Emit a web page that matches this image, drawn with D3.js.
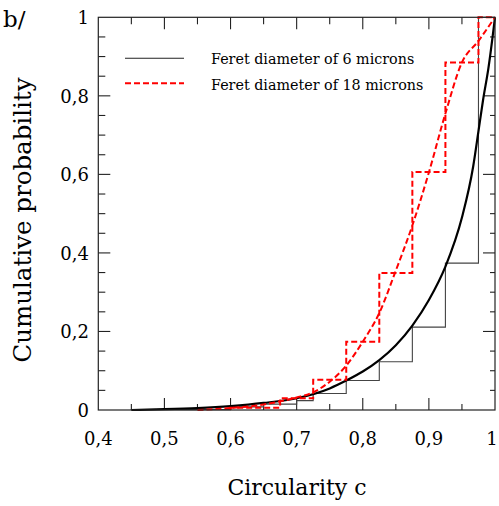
<!DOCTYPE html>
<html><head><meta charset="utf-8">
<script src="https://cdn.jsdelivr.net/npm/d3@7"></script>
<style>body{margin:0;background:#fff}svg{display:block}text{font-family:"DejaVu Serif",serif;fill:#000}</style>
</head><body>
<script>
// Data
const xTickValues = [0.4, 0.5, 0.6, 0.7, 0.8, 0.9, 1.0];
const xTickLabels = ["0,4", "0,5", "0,6", "0,7", "0,8", "0,9", "1"];
const yTickValues = [0, 0.2, 0.4, 0.6, 0.8, 1.0];
const yTickLabels = ["0", "0,2", "0,4", "0,6", "0,8", "1"];
const seriesNames = ["Feret diameter of 6 microns", "Feret diameter of 18 microns"];

// 6 microns: empirical step function (edges, levels) and fitted curve
const step6Edges = [0.45, 0.6, 0.65, 0.70, 0.725, 0.775, 0.825, 0.875, 0.925, 0.975, 1.0];
const step6Levels = [0.001, 0.008, 0.015, 0.024, 0.042, 0.075, 0.123, 0.211, 0.374, 1.0];
const curve6C = [0.45, 0.5, 0.55, 0.6, 0.65, 0.7, 0.75, 0.775, 0.8, 0.825, 0.85, 0.875, 0.9, 0.925, 0.95, 0.967, 0.975, 0.982, 0.99, 1.0];
const curve6P = [0, 0.002, 0.005, 0.01, 0.018, 0.03, 0.055, 0.075, 0.098, 0.127, 0.165, 0.215, 0.28, 0.365, 0.49, 0.62, 0.71, 0.79, 0.87, 1.0];

// 18 microns
const step18Edges = [0.6, 0.675, 0.725, 0.775, 0.825, 0.875, 0.925, 0.975, 1.0];
const step18Levels = [0.006, 0.03, 0.077, 0.174, 0.349, 0.606, 0.885, 1.0];
const curve18C = [0.55, 0.6, 0.65, 0.675, 0.7, 0.725, 0.75, 0.775, 0.8, 0.825, 0.85, 0.875, 0.9, 0.925, 0.95, 0.975, 1.0];
const curve18P = [0, 0.005, 0.014, 0.022, 0.032, 0.045, 0.072, 0.113, 0.174, 0.247, 0.355, 0.47, 0.605, 0.755, 0.885, 0.94, 1.0];

const W = 499, H = 506;
const svg = d3.select("body").append("svg").attr("width", W).attr("height", H);
const x = d3.scaleLinear().domain([0.4, 1]).range([98.3, 495]);
const y = d3.scaleLinear().domain([0, 1]).range([410, 17.3]);

// ticks
const g = svg.append("g").attr("stroke", "#222").attr("stroke-width", 1.1);
const xMinor = d3.range(0.45, 1.0, 0.05).map(v => +v.toFixed(2));
xMinor.forEach(v => {
  const major = Math.abs(v * 10 - Math.round(v * 10)) < 1e-6;
  const L = major ? 12 : 6;
  g.append("line").attr("x1", x(v)).attr("x2", x(v)).attr("y1", y(0)).attr("y2", y(0) - L);
  g.append("line").attr("x1", x(v)).attr("x2", x(v)).attr("y1", y(1)).attr("y2", y(1) + (major ? 12 : 7));
});
const yMinor = d3.range(0.05, 1.0, 0.05).map(v => +v.toFixed(2));
yMinor.forEach(v => {
  const major = Math.abs(v * 5 - Math.round(v * 5)) < 1e-6;
  const L = major ? 12 : 7;
  g.append("line").attr("x1", x(0.4)).attr("x2", x(0.4) + L).attr("y1", y(v)).attr("y2", y(v));
  g.append("line").attr("x1", x(1)).attr("x2", x(1) - (major ? 12 : 5)).attr("y1", y(v)).attr("y2", y(v));
});

// steps
const stepPts = (edges, levels) => {
  const pts = edges.slice(0, -1).map((e, i) => [e, levels[i]]);
  pts.push([edges[edges.length - 1], levels[levels.length - 1]]);
  return pts;
};
const stepLine = d3.line().x(d => x(d[0])).y(d => y(d[1])).curve(d3.curveStepAfter);
const smooth = d3.line().x(d => x(d[0])).y(d => y(d[1])).curve(d3.curveMonotoneX);

svg.append("path").attr("d", stepLine([[step6Edges[0], 0], ...stepPts(step6Edges, step6Levels)]))
  .attr("fill", "none").attr("stroke", "#444").attr("stroke-width", 1.1);
svg.append("path").attr("d", smooth(curve6C.map((c, i) => [c, curve6P[i]])))
  .attr("fill", "none").attr("stroke", "#000").attr("stroke-width", 2.2);
svg.append("path").attr("d", stepLine([[step18Edges[0], 0], ...stepPts(step18Edges, step18Levels)]))
  .attr("fill", "none").attr("stroke", "#ff0000").attr("stroke-width", 2).attr("stroke-dasharray", "6,3");
svg.append("path").attr("d", smooth(curve18C.map((c, i) => [c, curve18P[i]])))
  .attr("fill", "none").attr("stroke", "#ff0000").attr("stroke-width", 2).attr("stroke-dasharray", "6,3");

// frame
svg.append("rect").attr("x", x(0.4)).attr("y", y(1)).attr("width", x(1) - x(0.4)).attr("height", y(0) - y(1))
  .attr("fill", "none").attr("stroke", "#222").attr("stroke-width", 1.2);

// tick labels
svg.selectAll(".xl").data(xTickValues).enter().append("text")
  .attr("x", d => Math.min(x(d), 492)).attr("y", 445).attr("text-anchor", "middle").attr("font-size", 18)
  .text((d, i) => xTickLabels[i]);
svg.selectAll(".yl").data(yTickValues).enter().append("text")
  .attr("x", 89).attr("y", d => y(d)).attr("dy", "0.38em").attr("text-anchor", "end").attr("font-size", 18)
  .text((d, i) => yTickLabels[i]);

// axis titles
svg.append("text").attr("x", 297).attr("y", 495).attr("text-anchor", "middle").attr("font-size", 22).text("Circularity c");
svg.append("text").attr("transform", "translate(31,220) rotate(-90)").attr("text-anchor", "middle").attr("font-size", 24.5).text("Cumulative probability");
svg.append("text").attr("x", 3).attr("y", 27).attr("font-size", 23).text("b/");

// legend
svg.append("line").attr("x1", 125).attr("x2", 184).attr("y1", 58.3).attr("y2", 58.3).attr("stroke", "#222").attr("stroke-width", 1.1);
svg.append("line").attr("x1", 125).attr("x2", 184).attr("y1", 83.3).attr("y2", 83.3).attr("stroke", "#ff0000").attr("stroke-width", 2).attr("stroke-dasharray", "6,3");
svg.append("text").attr("x", 211).attr("y", 64).attr("font-size", 14.3).text(seriesNames[0]);
svg.append("text").attr("x", 211).attr("y", 90).attr("font-size", 14.3).text(seriesNames[1]);
</script>
</body></html>
